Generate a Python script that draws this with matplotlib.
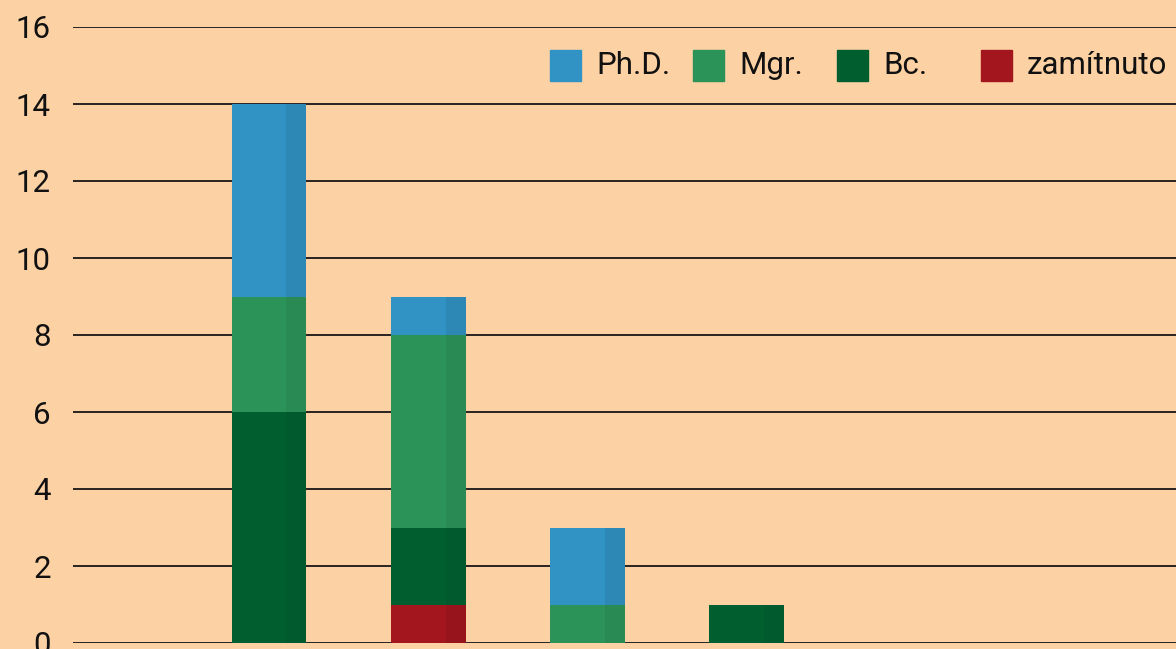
import matplotlib
matplotlib.use("Agg")
import matplotlib.pyplot as plt
import numpy as np
from matplotlib.patches import Rectangle

categories = ["A", "B", "C", "D"]
series_names = ["zamítnuto", "Bc.", "Mgr.", "Ph.D."]
zamitnuto = [0, 1, 0, 0]
bc = [6, 2, 0, 1]
mgr = [3, 5, 1, 0]
phd = [5, 1, 2, 0]
y_ticks = [0, 2, 4, 6, 8, 10, 12, 14, 16]

colors = {"zamítnuto": "#A3161E", "Bc.": "#005E2F", "Mgr.": "#2B9358", "Ph.D.": "#3192C4"}
dark = {"zamítnuto": "#97141C", "Bc.": "#005A2D", "Mgr.": "#298A53", "Ph.D.": "#2E88B5"}
bg = "#FCD1A4"

plt.rcParams['font.family'] = ['Roboto', 'DejaVu Sans']

fig = plt.figure(figsize=(11.76, 6.49), dpi=100, facecolor=bg)
ax = fig.add_axes([73/1176, 6/649, 1 - 73/1176, 616/649], facecolor=bg)

x = np.arange(len(categories))
width = 0.47
strip = width * 0.267
bottom = np.zeros(len(categories))
for name, vals in zip(series_names, [zamitnuto, bc, mgr, phd]):
    vals = np.array(vals, dtype=float)
    ax.bar(x, vals, width, bottom=bottom, color=colors[name], zorder=3, linewidth=0)
    ax.bar(x + width/2 - strip/2, vals, strip, bottom=bottom, color=dark[name], zorder=3, linewidth=0)
    bottom += vals

ax.set_ylim(0, 16)
ax.set_xlim(-1.232, 5.70)
ax.set_yticks(y_ticks)
ax.set_yticklabels([str(t) for t in y_ticks], fontsize=22.5, color="#111111")
ax.tick_params(axis='y', length=0, pad=16)
ax.set_xticks([])
for s in ax.spines.values():
    s.set_visible(False)
ax.yaxis.grid(True, color="#2a2320", linewidth=1.4, zorder=1)
ax.set_axisbelow(True)

# legend
legend_order = ["Ph.D.", "Mgr.", "Bc.", "zamítnuto"]
lx = [550, 693, 837, 981]
for name, px in zip(legend_order, lx):
    fig.patches.append(Rectangle((px/1176, 1 - 81/649), 31/1176, 31/649,
                                 transform=fig.transFigure, color=colors[name]))
    fig.text((px + 46)/1176, 1 - 66/649, name, fontsize=22.5, va='center', ha='left', color="#111111")

fig.savefig("out.png", dpi=100, facecolor=bg)
